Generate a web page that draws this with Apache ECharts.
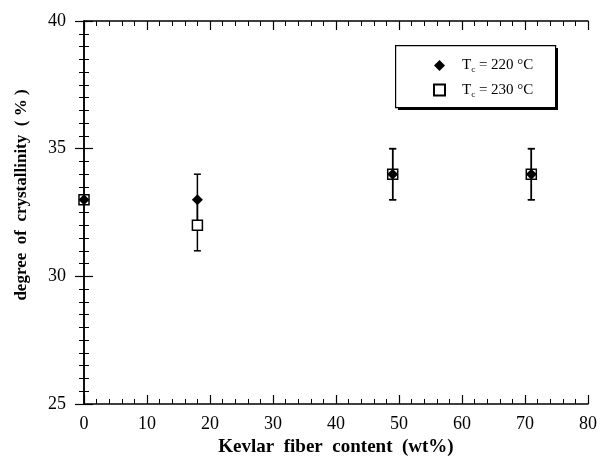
<!DOCTYPE html>
<html><head><meta charset="utf-8">
<script src="https://cdn.jsdelivr.net/npm/echarts@6/dist/echarts.min.js"></script>
<style>html,body{margin:0;padding:0;background:#fff}#c{width:601px;height:457px}</style>
</head><body><div id="c"></div>
<script>
var xValues = [0, 18, 49, 71];
var y220 = [33, 33, 34, 34];
var err220 = [0, 1, 1, 1];
var y230 = [33, 32, 34, 34];
var err230 = [0, 1, 1, 1];
var seriesNames = ['220', '230'];
var xTitle = 'Kevlar  fiber  content  (wt%)';
var yTitle = 'degree  of  crystallinity  ( % )';

var FONT = '"Liberation Serif", "DejaVu Serif", serif';

function pts(ys) { return xValues.map(function (x, i) { return [x, ys[i]]; }); }
function errData(ys, es) { return xValues.map(function (x, i) { return [x, ys[i] - es[i], ys[i] + es[i]]; }); }

function errSeries(ys, es) {
  return {
    type: 'custom', xAxisIndex: 0, yAxisIndex: 0, z: 1, silent: true,
    data: errData(ys, es),
    renderItem: function (params, api) {
      var lo = api.value(1), hi = api.value(2);
      if (hi - lo <= 0) return null;
      var x = api.value(0);
      var p1 = api.coord([x, lo]), p2 = api.coord([x, hi]);
      var w = 3.5, st = { stroke: '#000', lineWidth: 1.5 };
      return { type: 'group', children: [
        { type: 'line', shape: { x1: p1[0], y1: p1[1], x2: p2[0], y2: p2[1] }, style: st },
        { type: 'line', shape: { x1: p1[0] - w, y1: p1[1], x2: p1[0] + w, y2: p1[1] }, style: st },
        { type: 'line', shape: { x1: p2[0] - w, y1: p2[1], x2: p2[0] + w, y2: p2[1] }, style: st }
      ]};
    }
  };
}

var axisCommon = {
  axisLine: { show: true, lineStyle: { color: '#000', width: 1.5 } },
  axisTick: { show: true, inside: true, length: 9, lineStyle: { color: '#000', width: 1.2 } },
  minorTick: { show: true, length: 5, lineStyle: { color: '#000', width: 1 } },
  splitLine: { show: false }
};

var chart = echarts.init(document.getElementById('c'));
chart.setOption({
  animation: false,
  backgroundColor: '#fff',
  grid: { left: 84, right: 13, top: 21, bottom: 53, containLabel: false, outerBoundsMode: 'none' },
  xAxis: [
    Object.assign({}, axisCommon, {
      type: 'value', min: 0, max: 80, interval: 10, position: 'bottom',
      minorTick: Object.assign({}, axisCommon.minorTick, { splitNumber: 5 }),
      axisLabel: { color: '#000', fontFamily: FONT, fontSize: 18, margin: 11 },
      name: xTitle, nameLocation: 'middle', nameGap: 33,
      nameTextStyle: { color: '#000', fontFamily: FONT, fontSize: 19, fontWeight: 'bold' }
    }),
    Object.assign({}, axisCommon, {
      type: 'value', min: 0, max: 80, interval: 10, position: 'top',
      minorTick: Object.assign({}, axisCommon.minorTick, { splitNumber: 5 }),
      axisLabel: { show: false }
    })
  ],
  yAxis: [
    Object.assign({}, axisCommon, {
      type: 'value', min: 25, max: 40, interval: 5, position: 'left',
      minorTick: Object.assign({}, axisCommon.minorTick, { splitNumber: 10 }),
      axisLabel: { color: '#000', fontFamily: FONT, fontSize: 18, margin: 18 }
    }),
    Object.assign({}, axisCommon, {
      type: 'value', min: 25, max: 40, interval: 5, position: 'right',
      minorTick: Object.assign({}, axisCommon.minorTick, { splitNumber: 10 }),
      axisLabel: { show: false }
    })
  ],
  legend: {
    orient: 'vertical', left: 428, top: 53, itemGap: 8,
    itemWidth: 11, itemHeight: 11,
    data: [
      { name: seriesNames[0], icon: 'diamond' },
      { name: seriesNames[1], icon: 'rect' }
    ],
    formatter: function (n) { return '{t|T}{s|c}{t| = ' + n + ' °C}'; },
    textStyle: {
      color: '#000', padding: [0, 0, 0, 12],
      rich: {
        t: { fontFamily: FONT, fontSize: 15, color: '#000' },
        s: { fontFamily: FONT, fontSize: 9, color: '#000', verticalAlign: 'bottom', padding: [9, 0, 0, 0] }
      }
    }
  },
  graphic: [
    { type: 'rect', left: 398, top: 48, shape: { width: 160, height: 62 }, style: { fill: '#000' }, z: 0 },
    { type: 'rect', left: 395, top: 45, shape: { width: 160, height: 62 }, style: { fill: '#fff', stroke: '#000', lineWidth: 1.2 }, z: 1 },
    { type: 'text', x: 22, y: 195, rotation: Math.PI / 2, z: 5,
      style: { text: yTitle, fill: '#000', font: 'bold 17px ' + FONT, textAlign: 'center', textVerticalAlign: 'middle' } }
  ],
  series: [
    errSeries(y230, err230),
    errSeries(y220, err220),
    {
      name: seriesNames[1], type: 'scatter', z: 3, symbol: 'rect', symbolSize: 10,
      itemStyle: { color: '#fff', borderColor: '#000', borderWidth: 1.5, opacity: 1 },
      data: pts(y230)
    },
    {
      name: seriesNames[0], type: 'scatter', z: 4, symbol: 'diamond', symbolSize: 11,
      itemStyle: { color: '#000', opacity: 1 },
      data: pts(y220)
    }
  ]
});
</script></body></html>
